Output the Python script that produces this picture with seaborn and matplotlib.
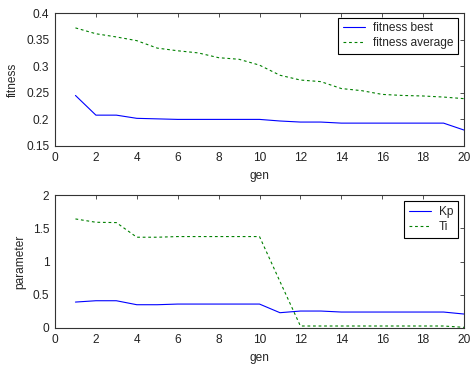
import matplotlib
matplotlib.use("Agg")
import matplotlib.pyplot as plt
import seaborn as sns
import pandas as pd

# generation index
gen = list(range(1, 21))

# fitness per generation
fitness_best = [0.245, 0.208, 0.208, 0.202, 0.201, 0.200, 0.200, 0.200, 0.200, 0.200,
                0.197, 0.195, 0.195, 0.193, 0.193, 0.193, 0.193, 0.193, 0.193, 0.180]
fitness_average = [0.372, 0.361, 0.355, 0.348, 0.334, 0.329, 0.325, 0.316, 0.313, 0.302,
                   0.283, 0.274, 0.271, 0.258, 0.254, 0.247, 0.245, 0.244, 0.242, 0.239]

# controller parameters of the best individual
kp = [0.39, 0.41, 0.41, 0.35, 0.35, 0.36, 0.36, 0.36, 0.36, 0.36,
      0.23, 0.255, 0.255, 0.24, 0.24, 0.24, 0.24, 0.24, 0.24, 0.21]
ti = [1.64, 1.59, 1.585, 1.365, 1.365, 1.375, 1.375, 1.375, 1.375, 1.375,
      0.70, 0.03, 0.03, 0.03, 0.03, 0.03, 0.03, 0.03, 0.03, 0.01]

sns.set_style("white")
plt.rcParams["font.family"] = ["Liberation Sans", "DejaVu Sans"]
FS = 8.6
plt.rcParams["font.size"] = FS

fit_df = pd.DataFrame({"gen": gen, "fitness best": fitness_best, "fitness average": fitness_average})
par_df = pd.DataFrame({"gen": gen, "Kp": kp, "Ti": ti})

fig = plt.figure(figsize=(4.72, 3.65), dpi=100)
ax1 = fig.add_axes([55 / 472, 1 - 146 / 365, 409 / 472, 133 / 365])
ax2 = fig.add_axes([55 / 472, 1 - 328 / 365, 409 / 472, 133 / 365])

blue = "#0000ff"
green = "#008000"


def draw(ax, df, names, ylim, yticks, ylabel, legend_anchor):
    sns.lineplot(data=df, x="gen", y=names[0], ax=ax, color=blue, lw=0.8, label=names[0])
    sns.lineplot(data=df, x="gen", y=names[1], ax=ax, color=green, lw=0.8,
                 linestyle=(0, (2.5, 2.5)), label=names[1])
    ax.set_xlim(0, 20)
    ax.set_ylim(*ylim)
    ax.set_xticks(range(0, 21, 2))
    ax.set_yticks(yticks)
    ax.set_yticklabels([f"{v:g}" for v in yticks])
    ax.set_xlabel("gen", fontsize=FS, labelpad=5)
    ax.set_ylabel(ylabel, fontsize=FS, labelpad=5)
    ax.tick_params(direction="in", length=3, top=True, right=True, labelsize=FS,
                   color="#333333", width=0.6, pad=4, labelcolor="#222222")
    for s in ax.spines.values():
        s.set_color("#333333")
        s.set_linewidth(0.8)
    leg = ax.legend(loc="upper right", bbox_to_anchor=legend_anchor, fancybox=False,
                    framealpha=1, edgecolor="black", fontsize=FS, handlelength=1.9,
                    borderpad=0.4, labelspacing=0.25, handletextpad=0.6, borderaxespad=0)
    leg.get_frame().set_linewidth(0.8)


draw(ax1, fit_df, ["fitness best", "fitness average"], (0.15, 0.4),
     [0.15, 0.2, 0.25, 0.3, 0.35, 0.4], "fitness", (0.985, 0.965))
draw(ax2, par_df, ["Kp", "Ti"], (0, 2), [0, 0.5, 1, 1.5, 2], "parameter", (0.985, 0.955))

fig.savefig("out.png", dpi=100)
